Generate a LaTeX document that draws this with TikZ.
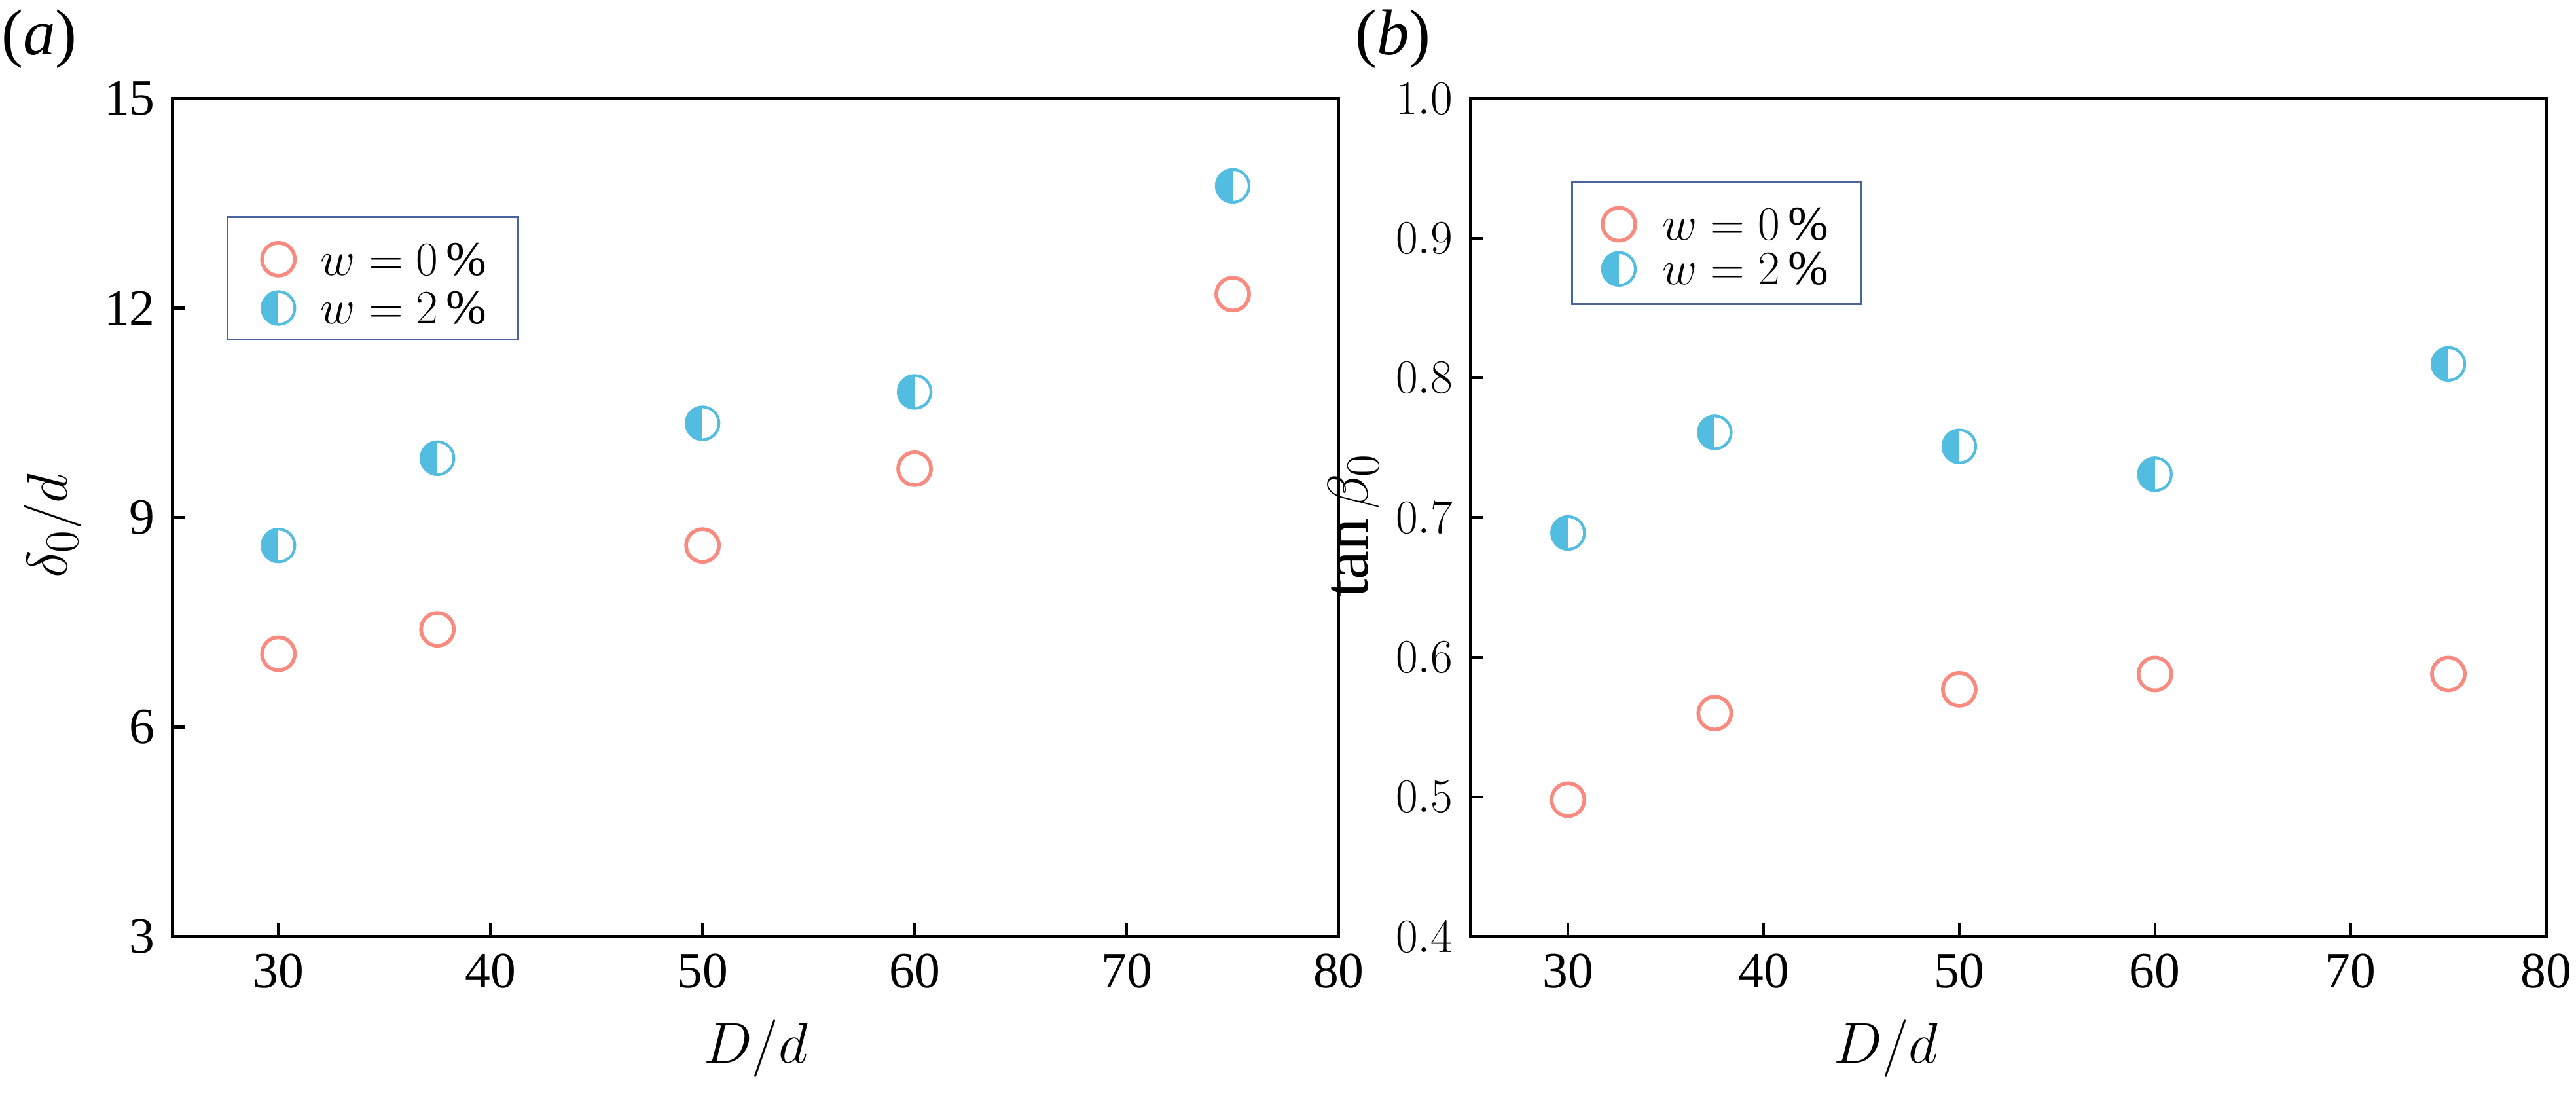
\documentclass[tikz,border=0pt]{standalone}
\usepackage{fontspec}
\setmainfont{Liberation Serif}
\usetikzlibrary{positioning}
\definecolor{salmon}{HTML}{F88A80}
\definecolor{skyblue}{HTML}{52BDE0}
\definecolor{legendblue}{HTML}{4A64A0}
\tikzset{
  dry/.style={circle, draw=salmon, line width=1.6pt, fill=white, minimum size=0.5cm, inner sep=0pt},
  wet/.style={circle, draw=skyblue, line width=1.2pt, fill=white, minimum size=0.5cm, inner sep=0pt,
    path picture={\fill[skyblue] (path picture bounding box.south west) rectangle (path picture bounding box.north);}},
  ticklab/.style={font=\fontsize{22}{26}\selectfont},
  axlab/.style={font=\fontsize{28}{32}\selectfont},
  legbox/.style={draw=legendblue, line width=0.9pt},
  legtext/.style={font=\fontsize{21}{25}\selectfont, anchor=west}
}
\begin{document}
\begin{tikzpicture}
\useasboundingbox (0,0) rectangle (39.2,16.7);
% panel a
\node[axlab] (lab-a) at (0.6,16.1) {(\textit{a})};
\node[axlab, rotate=90] (ylab-a) at (0.8,8.7) {$\delta_0/d$};
\node[axlab] (xlab-a) at (11.5,0.75) {$D/d$};
\begin{scope}[shift={(-5.444,-0.7375)}, xscale=0.3227, yscale=1.0625]
  \draw[line width=1.3pt] (25,3) rectangle (80,15);
  \foreach \x in {30,40,...,80} {
    \draw[line width=1.2pt] (\x,3) -- ++(0,0.2);
    \node[ticklab, below=4pt] (xa\x) at (\x,3) {\x};
  }
  \foreach \y in {3,6,...,15} {
    \draw[line width=1.2pt] (25,\y) -- ++(0.6,0);
    \node[ticklab, left=4pt] (ya\y) at (25,\y) {\y};
  }
  \foreach \x/\y [count=\i] in {30/7.05,37.5/7.4,50/8.6,60/9.7,75/12.2}
    \node[dry] (a0-\i) at (\x,\y) {};
  \foreach \x/\y [count=\i] in {30/8.6,37.5/9.85,50/10.35,60/10.8,75/13.75}
    \node[wet] (a2-\i) at (\x,\y) {};
  % legend
  \draw[legbox] (27.6,11.55) rectangle (41.3,13.3);
  \node[dry] (la0) at (30,12.7) {};
  \node[wet] (la2) at (30,12.0) {};
  \node[legtext] (ta0) at (31.6,12.7) {$w = 0\,\%$};
  \node[legtext] (ta2) at (31.6,12.0) {$w = 2\,\%$};
\end{scope}
% panel b
\node[axlab] (lab-b) at (21.2,16.1) {(\textit{b})};
\node[axlab, rotate=90] (ylab-b) at (20.6,8.7) {$\tan\beta_0$};
\node[axlab] (xlab-b) at (28.7,0.75) {$D/d$};
\begin{scope}[shift={(14.93,-6.05)}, xscale=0.2977, yscale=21.25]
  \draw[line width=1.3pt] (25,0.4) rectangle (80,1.0);
  \foreach \x in {30,40,...,80} {
    \draw[line width=1.2pt] (\x,0.4) -- ++(0,0.01);
    \node[ticklab, below=4pt] (xb\x) at (\x,0.4) {\x};
  }
  \foreach \y in {0.4,0.5,...,1.05} {
    \draw[line width=1.2pt] (25,\y) -- ++(0.65,0);
    \node[ticklab, left=4pt] (yb\y) at (25,\y) {\pgfmathprintnumber[fixed,precision=1,fixed zerofill]{\y}};
  }
  \foreach \x/\y [count=\i] in {30/0.498,37.5/0.56,50/0.577,60/0.588,75/0.588}
    \node[dry] (b0-\i) at (\x,\y) {};
  \foreach \x/\y [count=\i] in {30/0.689,37.5/0.761,50/0.751,60/0.731,75/0.81}
    \node[wet] (b2-\i) at (\x,\y) {};
  % legend
  \draw[legbox] (30.2,0.853) rectangle (45.0,0.94);
  \node[dry] (lb0) at (32.6,0.91) {};
  \node[wet] (lb2) at (32.6,0.878) {};
  \node[legtext] (tb0) at (34.4,0.91) {$w = 0\,\%$};
  \node[legtext] (tb2) at (34.4,0.878) {$w = 2\,\%$};
\end{scope}
\end{tikzpicture}
\end{document}
